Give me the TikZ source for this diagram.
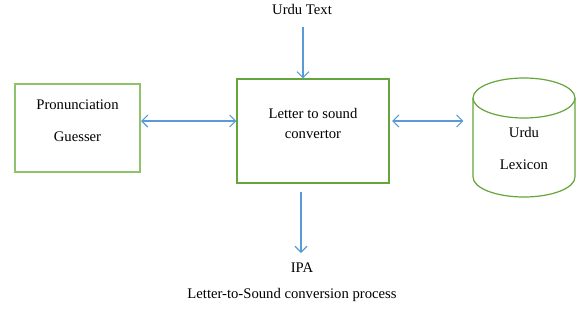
\documentclass[tikz,border=0pt]{standalone}
\usepackage{fontspec}
\setmainfont{Liberation Serif}
\usetikzlibrary{arrows.meta}
\definecolor{boxgreen}{RGB}{140,195,108}
\definecolor{darkgreen}{RGB}{100,165,60}
\definecolor{linkblue}{RGB}{91,155,213}
\tikzset{
  link/.style={draw=linkblue, line width=0.8pt, {Straight Barb[length=1.6mm,width=3.2mm]}-{Straight Barb[length=1.6mm,width=3.2mm]}},
  onelink/.style={link, -{Straight Barb[length=1.6mm,width=3.2mm]}},
  box/.style={draw=darkgreen, line width=0.8pt, inner sep=0pt},
  softbox/.style={box, draw=boxgreen, line width=1.5pt},
  drum/.style={draw=darkgreen, line width=0.9pt},
  txt/.style={align=center, font=\fontsize{11}{13}\selectfont, inner sep=1pt}
}
\begin{document}
\begin{tikzpicture}[x=0.75pt,y=-0.75pt]
  \useasboundingbox (0,0) rectangle (587,311);
  % boxes
  \node[softbox,minimum width=125*0.75pt,minimum height=88*0.75pt] (guesser) at (77.5,128) {};
  \node[box,minimum width=152*0.75pt,minimum height=104*0.75pt] (convertor) at (313,131) {};
  \node[inner sep=0pt,minimum width=102*0.75pt,minimum height=119*0.75pt] (lexicon) at (524,137.5) {};
  % the drum
  \draw[drum] (524,98) ellipse [x radius=51, y radius=20];
  \draw[drum] (473,98) -- (473,177) arc [start angle=180, end angle=360, x radius=51, y radius=-20] -- (575,98);
  % texts
  \node[txt] (guessertxt) at (77.5,121) {Pronunciation\\[11pt]Guesser};
  \node[txt] (convertortxt) at (313,123.5) {Letter to sound\\[2pt]convertor};
  \node[txt] (lexicontxt) at (524,148.5) {Urdu\\[11pt]Lexicon};
  \node[txt] (urdu) at (302,9) {Urdu Text};
  \node[txt] (ipa) at (302,268) {IPA};
  \node[txt] (caption) at (292,295) {Letter-to-Sound conversion process};
  % connectors
  \coordinate (lvl) at (0,121);
  \coordinate (top) at (303,27);
  \coordinate (bottom) at (301,253);
  \draw[link] (guesser.east |- lvl) -- (convertor.west |- lvl);
  \draw[link] ([xshift=2pt]convertor.east |- lvl) -- ([xshift=-7pt]lexicon.west |- lvl);
  \draw[onelink] (top) -- (top |- convertor.north);
  \draw[onelink] ([yshift=-6pt]bottom |- convertor.south) -- (bottom);
\end{tikzpicture}
\end{document}
